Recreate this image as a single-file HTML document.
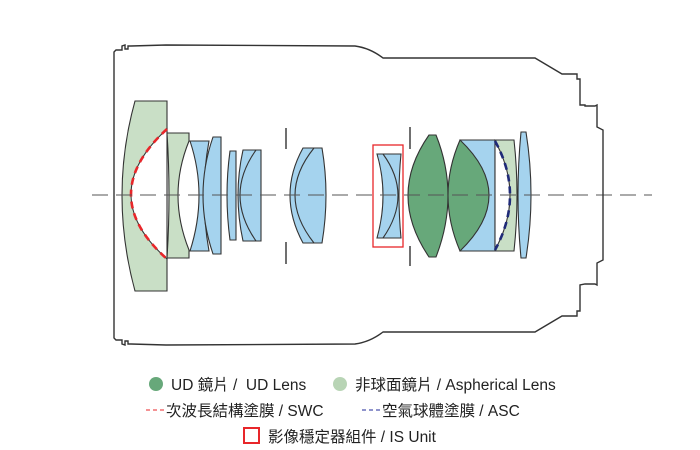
<!DOCTYPE html>
<html><head><meta charset="utf-8"><style>
body{margin:0;background:#fff;width:700px;height:450px;overflow:hidden}
svg{display:block}
text{font-family:"Liberation Sans","Noto Sans CJK TC",sans-serif;font-size:15.5px;fill:#222}
</style></head><body>
<svg width="700" height="450" viewBox="0 0 700 450">
<g stroke="#333" stroke-width="1.1">
<path d="M135,101 L167,101 L167,291 L135,291 Q109,195 135,101 Z" fill="#c9dfc6"/>
<path d="M167,129 Q95,195 167,259 Z" fill="#fff"/>
<path d="M167,133 L189,133 L189,141 Q167,195 189,250 L189,258 L167,258 Q171,195 167,133 Z" fill="#c9dfc6"/>
<path d="M190,141 L209,141 Q199,195 209,251 L190,251 Q208,195 190,141 Z" fill="#a5d3ee"/>
<path d="M213,137 L221,137 L221,254 L213,254 Q193,195 213,137 Z" fill="#a5d3ee"/>
<path d="M230,151 L236,151 L236,240 L230,240 Q224,195 230,151 Z" fill="#a5d3ee"/>
<path d="M243,150 L261,150 L261,241 L243,241 Q233,195 243,150 Z" fill="#a5d3ee"/>
<path d="M256,150 Q224,195 256,241" fill="none"/>
<path d="M303,148 L322,148 Q330,195 322,243 L303,243 Q277,195 303,148 Z" fill="#a5d3ee"/>
<path d="M314,148 Q276,195 314,243" fill="none"/>
<path d="M377,154 L401,154 Q397,195 401,238 L377,238 Q389,195 377,154 Z" fill="#a5d3ee"/>
<path d="M383,154 Q413,195 383,238" fill="none"/>
<path d="M460,140 L497,140 L495,251 L460,251 Z" fill="#a5d3ee" stroke="none"/>
<path d="M495,140 L514,140 Q520,195 514,251 L495,251 Z" fill="#c9dfc6"/>
<path d="M495,141 Q525,195 495,250 Z" fill="#fff"/>
<path d="M460,140 L497,140 M460,251 L495,251" fill="none"/>
<path d="M429,135 L436,135 Q460,195 436,257 L429,257 Q387,195 429,135 Z" fill="#67a87a"/>
<path d="M460,140 Q436,195 460,251 Q518,195 460,140 Z" fill="#67a87a"/>
<path d="M521,132 L526,132 Q536,195 526,258 L521,258 Q515,195 521,132 Z" fill="#a5d3ee"/>
</g>
<path d="M167,129 Q95,195 167,259" fill="none" stroke="#e8262a" stroke-width="2.6" stroke-dasharray="7,5"/>
<path d="M495,141 Q525,195 495,250" fill="none" stroke="#1f2a78" stroke-width="2.6" stroke-dasharray="7,5"/>
<rect x="373" y="145" width="30" height="102" fill="none" stroke="#e8262a" stroke-width="1.3"/>
<g stroke="#111" stroke-width="1.2">
<line x1="286" y1="128" x2="286" y2="149"/><line x1="286" y1="242" x2="286" y2="264"/>
<line x1="410" y1="127" x2="410" y2="149"/><line x1="410" y1="246" x2="410" y2="266"/>
</g>
<line x1="92" y1="195" x2="652" y2="195" stroke="#555" stroke-width="1" stroke-dasharray="16,8"/>
<path d="M114,52 L116,50 L122,50 L122,46 L125,45 L125,49 L128,49 L128,46 L131,46 L166,45 L355,46 Q370,48 383,58 L535,58 L562,74 L577,74 L577,79 L580,79 L580,105 L585,105 L585,106 L595,106 L597,105 L597,127 L603,130 L603,260 L597,263 L597,285 L595,284 L585,284 L580,285 L580,311 L577,311 L577,316 L562,316 L535,332 L383,332 Q370,342 355,344 L166,345 L131,344 L128,344 L128,341 L125,341 L125,345 L122,344 L122,340 L116,340 L114,338 Z" fill="none" stroke="#333" stroke-width="1.4"/>
<circle cx="156" cy="384" r="7" fill="#67a87a"/>
<text x="171" y="390">UD 鏡片 /&#160; UD Lens</text>
<circle cx="340" cy="384" r="7" fill="#b8d4b5"/>
<text x="355" y="390">非球面鏡片 / Aspherical Lens</text>
<line x1="146" y1="410" x2="165" y2="410" stroke="#e8262a" stroke-width="1" stroke-dasharray="4,3"/>
<text x="166" y="416">次波長結構塗膜 / SWC</text>
<line x1="362" y1="410" x2="381" y2="410" stroke="#1f2a9a" stroke-width="1" stroke-dasharray="4,3"/>
<text x="382" y="416">空氣球體塗膜 / ASC</text>
<rect x="244" y="428" width="15" height="15" fill="none" stroke="#e8262a" stroke-width="2"/>
<text x="268" y="442">影像穩定器組件 / IS Unit</text>
</svg>
</body></html>
